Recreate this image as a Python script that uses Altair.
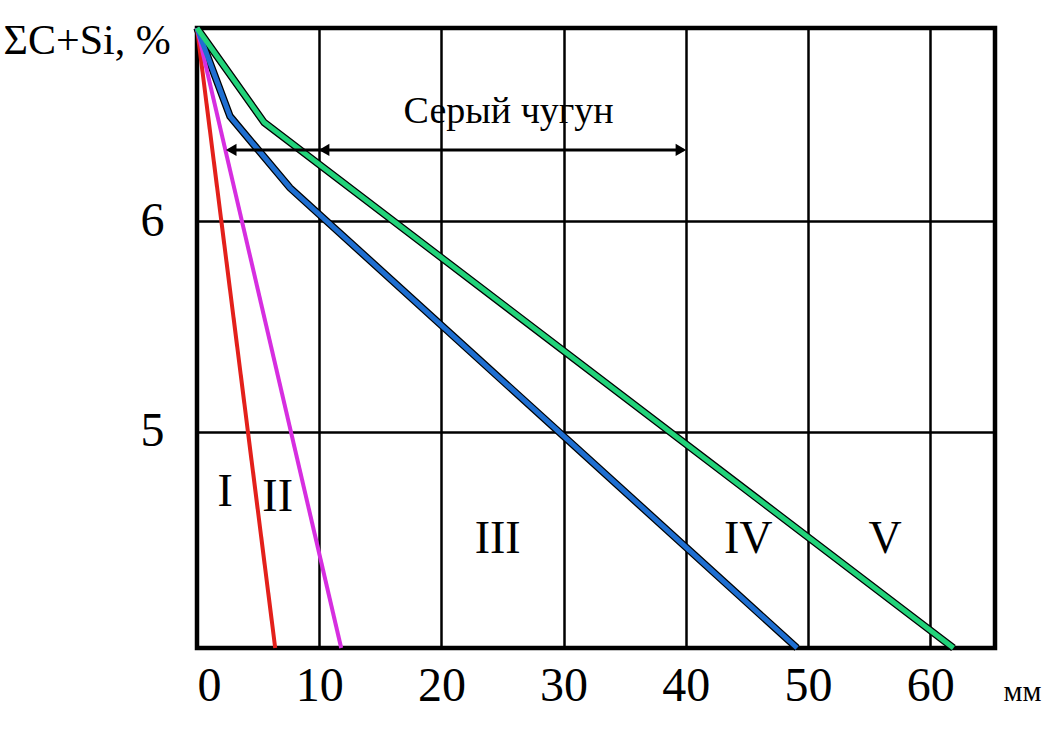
import altair as alt
import pandas as pd

# ---- data ----
x_ticks = [0, 10, 20, 30, 40, 50, 60]
y_ticks = [5, 6]

red_x = [0, 6.4]
red_y = [6.92, 3.97]
magenta_x = [0, 11.8]
magenta_y = [6.92, 3.97]
blue_x = [0, 2.7, 7.6, 49.1]
blue_y = [6.92, 6.50, 6.16, 3.97]
green_x = [0, 5.5, 61.9]
green_y = [6.92, 6.47, 3.97]

series = ["I", "II", "IV", "V"]
series_colors = ["#e3201b", "#d62ee0", "#1f6fd1", "#22d37a"]
series_widths = [4, 4, 5, 5]

region_labels = ["I", "II", "III", "IV", "V"]
region_x = [2.3, 6.6, 24.6, 45.1, 56.3]
region_y = [4.71, 4.69, 4.49, 4.49, 4.49]

arrow_x = [2.6]
arrow_x2 = [39.8]
arrow_y = [6.34]
head_x = [2.8, 10.4, 39.6]
head_y = [6.34, 6.34, 6.34]
head_shape = ["triangle-left", "triangle-left", "triangle-right"]

note_text = ["Серый чугун"]
note_x = [25.5]
note_y = [6.52]

FONT = "Liberation Serif"

rows = []
for name, xs, ys, w in [("I", red_x, red_y, 4), ("II", magenta_x, magenta_y, 4),
                        ("IV", blue_x, blue_y, 5), ("V", green_x, green_y, 5)]:
    for i, (a, b) in enumerate(zip(xs, ys)):
        rows.append({"s": name, "x": a, "y": b, "o": i, "w": w})
lines_df = pd.DataFrame(rows)

xscale = alt.Scale(domain=[0, 65.3], nice=False, zero=False)
yscale = alt.Scale(domain=[3.97, 6.92], nice=False, zero=False)

x_axis = alt.Axis(values=x_ticks, grid=True, gridColor="black", gridWidth=2.5,
                  domain=False, ticks=False, labelFont=FONT, labelFontSize=48,
                  labelColor="black", labelPadding=14, labelBaseline="top",
                  title="мм", titleFont=FONT, titleFontSize=30, titleFontWeight="normal",
                  titleColor="black", titleAlign="left", titleBaseline="middle",
                  titleX=806, titleY=43)
y_axis = alt.Axis(values=y_ticks, grid=True, gridColor="black", gridWidth=2.5,
                  domain=False, ticks=False, labelFont=FONT, labelFontSize=48,
                  labelColor="black", labelPadding=33,
                  title="ΣC+Si, %", titleFont=FONT, titleFontSize=42,
                  titleFontWeight="normal", titleColor="black", titleAngle=0,
                  titleAlign="left", titleBaseline="middle", titleX=-194, titleY=12)

X = alt.X("x:Q", scale=xscale, axis=x_axis)
Y = alt.Y("y:Q", scale=yscale, axis=y_axis)

under = alt.Chart(lines_df[lines_df["s"].isin(["IV", "V"])]).mark_line(
    color="black", strokeWidth=7.5, clip=False
).encode(x=X, y=Y, detail="s:N", order="o:Q")

colored = alt.Chart(lines_df).mark_line(clip=False).encode(
    x=X, y=Y,
    color=alt.Color("s:N", scale=alt.Scale(domain=series, range=series_colors), legend=None),
    strokeWidth=alt.StrokeWidth("w:Q", scale=None, legend=None),
    order="o:Q",
)

reg_df = pd.DataFrame({"t": region_labels, "x": region_x, "y": region_y})
regions = alt.Chart(reg_df).mark_text(font=FONT, fontSize=46, color="black").encode(
    x=X, y=Y, text="t:N",
)

arrow_df = pd.DataFrame({"x": arrow_x, "x2": arrow_x2, "y": arrow_y})
arrow = alt.Chart(arrow_df).mark_rule(color="black", strokeWidth=3).encode(
    x=X, x2="x2:Q", y=Y,
)

head_df = pd.DataFrame({"x": head_x, "y": head_y, "sh": head_shape})
heads = alt.Chart(head_df).mark_point(filled=True, color="black", size=150, opacity=1).encode(
    x=X, y=Y,
    shape=alt.Shape("sh:N", scale=None, legend=None),
)

note_df = pd.DataFrame({"t": note_text, "x": note_x, "y": note_y})
note = alt.Chart(note_df).mark_text(font=FONT, fontSize=38, color="black").encode(
    x=X, y=Y, text="t:N",
)

chart = alt.layer(under, colored, arrow, heads, note, regions).properties(
    width=798, height=620,
    autosize=alt.AutoSizeParams(type="none"),
    padding={"left": 197, "top": 28, "right": 59, "bottom": 107},
    background="white",
).configure_view(stroke="black", strokeWidth=4.5)

chart.save("out.html", embed_options={"renderer": "svg", "actions": False})
